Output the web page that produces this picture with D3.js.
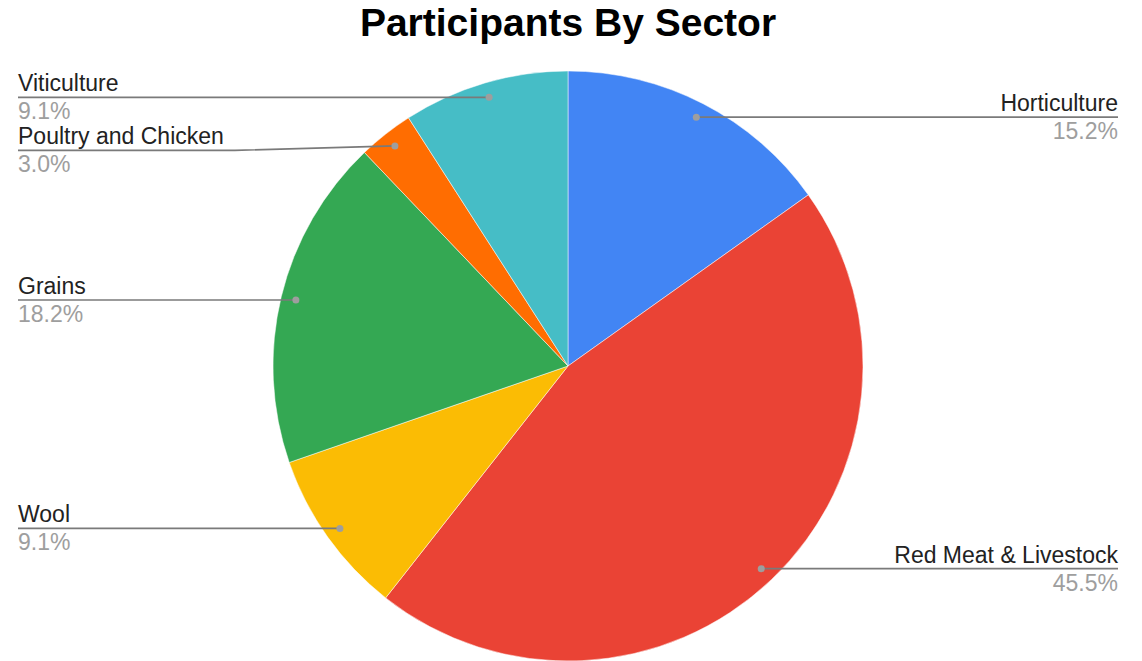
<!DOCTYPE html>
<html>
<head>
<meta charset="utf-8">
<script src="https://cdnjs.cloudflare.com/ajax/libs/d3/7.8.5/d3.min.js"></script>
<style>
  html, body { margin: 0; padding: 0; background: #fff; }
  svg { display: block; font-family: "Liberation Sans", Arial, sans-serif; }
</style>
</head>
<body>
<svg id="chart" width="1142" height="661"></svg>
<script>
// Participants per sector, listed clockwise from 12 o'clock
const sectors = ["Horticulture", "Red Meat & Livestock", "Wool", "Grains", "Poultry and Chicken", "Viticulture"];
const participants = [5, 15, 3, 6, 1, 3];
const sectorColors = ["#4285F4", "#EA4335", "#FBBC04", "#34A853", "#FF6D01", "#46BDC6"];

const width = 1142, height = 661;
const cx = 568, cy = 366, radius = 295;
const svg = d3.select("#chart");

svg.append("text")
  .attr("x", cx).attr("y", 36)
  .attr("text-anchor", "middle")
  .attr("font-size", 39).attr("font-weight", "bold").attr("fill", "#000")
  .text("Participants By Sector");

const data = sectors.map((name, i) => ({ name, value: participants[i], color: sectorColors[i] }));
const total = d3.sum(participants);
const pct = d3.format(".1%");

const pie = d3.pie().value(d => d.value).sort(null);
const arcs = pie(data);
const arc = d3.arc().innerRadius(0).outerRadius(radius);
const dotArc = d3.arc().innerRadius(280).outerRadius(280);

const g = svg.append("g").attr("transform", `translate(${cx},${cy})`);
g.selectAll("path.slice").data(arcs).enter().append("path")
  .attr("class", "slice")
  .attr("d", arc)
  .attr("fill", d => d.data.color)
  .attr("stroke", "#fff").attr("stroke-width", 0.5);

// Leader-line labels: left side anchored at x=18, right side ending at x=1118
const labels = arcs.map(a => {
  const [dx, dy] = dotArc.centroid(a);
  const mid = (a.startAngle + a.endAngle) / 2;
  return { a, dotX: cx + dx, dotY: cy + dy, side: mid > Math.PI ? "left" : "right", lineY: cy + dy };
});

["left", "right"].forEach(side => {
  const list = labels.filter(l => l.side === side).sort((p, q) => p.dotY - q.dotY);
  for (let i = 1; i < list.length; i++) {
    if (list[i].lineY - list[i - 1].lineY < 53) list[i].lineY = list[i - 1].lineY + 53;
  }
});

const lab = svg.append("g");
labels.forEach(l => {
  const left = l.side === "left";
  const edgeX = left ? 18 : 1118;
  const bendX = left ? l.dotX - 160 : l.dotX + 160;
  const pts = Math.abs(l.lineY - l.dotY) > 0.5
    ? [[edgeX, l.lineY], [bendX, l.lineY], [l.dotX, l.dotY]]
    : [[edgeX, l.lineY], [l.dotX, l.dotY]];
  lab.append("path")
    .attr("d", d3.line()(pts))
    .attr("fill", "none").attr("stroke", "#7a7a7a").attr("stroke-width", 1.7);
  lab.append("circle")
    .attr("cx", l.dotX).attr("cy", l.dotY).attr("r", 3.5)
    .attr("fill", "#9e9e9e");
  lab.append("text")
    .attr("x", edgeX).attr("y", l.lineY - 6)
    .attr("text-anchor", left ? "start" : "end")
    .attr("font-size", 23).attr("fill", "#222")
    .text(l.a.data.name);
  lab.append("text")
    .attr("x", edgeX).attr("y", l.lineY + 22)
    .attr("text-anchor", left ? "start" : "end")
    .attr("font-size", 23).attr("fill", "#9e9e9e")
    .text(pct(l.a.data.value / total));
});
</script>
</body>
</html>
